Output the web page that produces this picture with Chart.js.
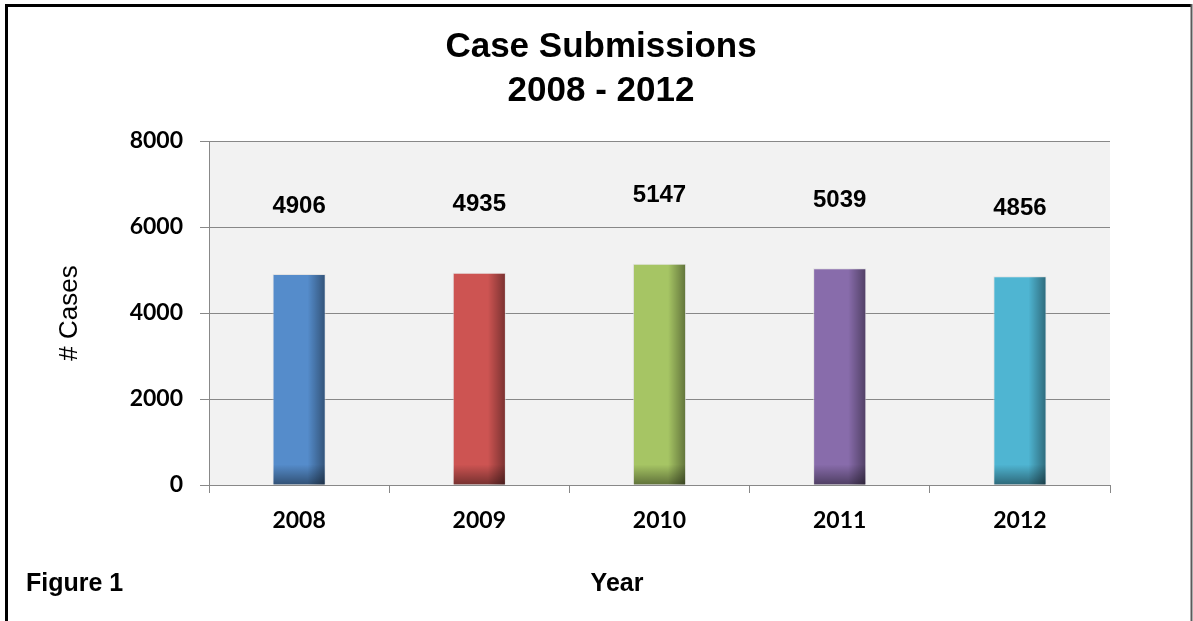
<!DOCTYPE html>
<html>
<head>
<meta charset="utf-8">
<script src="https://cdn.jsdelivr.net/npm/chart.js@4/dist/chart.umd.min.js"></script>
<style>
  html, body { margin: 0; padding: 0; background: #ffffff; }
  #wrap { position: relative; width: 1193px; height: 621px; }
</style>
</head>
<body>
<div id="wrap"><canvas id="c" width="1193" height="621"></canvas></div>
<script>
// Case submissions per year
const years = ['2008', '2009', '2010', '2011', '2012'];
const cases = [4906, 4935, 5147, 5039, 4856];
const barColors = ['#558ccb', '#cd5452', '#a6c564', '#886cab', '#4fb5d2'];
const yTicks = [0, 2000, 4000, 6000, 8000];
const titleLines = ['Case Submissions', '2008 - 2012'];

const AXIS_GRAY = '#888888';

// Light gray plot background behind the grid, plus the outer frame of the figure
const plotFrame = {
  id: 'plotFrame',
  beforeDraw(chart) {
    const { ctx, chartArea: a } = chart;
    ctx.save();
    ctx.fillStyle = '#ffffff';
    ctx.fillRect(0, 0, chart.width, chart.height);
    ctx.fillStyle = '#f2f2f2';
    ctx.fillRect(a.left, a.top, a.right - a.left, a.bottom - a.top);
    ctx.restore();
  },
  afterDraw(chart) {
    const { ctx } = chart;
    ctx.save();
    ctx.strokeStyle = '#000000';
    ctx.lineWidth = 3;
    ctx.beginPath();
    ctx.moveTo(6.5, chart.height);
    ctx.lineTo(6.5, 5.5);
    ctx.lineTo(chart.width - 2, 5.5);
    ctx.stroke();
    ctx.strokeStyle = '#5a5a5a';
    ctx.lineWidth = 2;
    ctx.beginPath();
    ctx.moveTo(chart.width - 1.5, 4);
    ctx.lineTo(chart.width - 1.5, chart.height);
    ctx.stroke();
    ctx.restore();
  }
};

// Darkened right edge and foot on each bar for a rounded look
const barShade = {
  id: 'barShade',
  afterDatasetsDraw(chart) {
    const { ctx } = chart;
    const meta = chart.getDatasetMeta(0);
    ctx.save();
    meta.data.forEach((bar) => {
      const left = bar.x - bar.width / 2;
      const right = bar.x + bar.width / 2;
      const top = bar.y;
      const bottom = bar.base;
      const sideStart = left + bar.width * 0.66;
      const g1 = ctx.createLinearGradient(sideStart, 0, right, 0);
      g1.addColorStop(0, 'rgba(0,0,0,0)');
      g1.addColorStop(1, 'rgba(0,0,0,0.42)');
      ctx.fillStyle = g1;
      ctx.fillRect(sideStart, top + 1, right - sideStart - 1, bottom - top - 1);
      const footTop = bottom - 20;
      const g2 = ctx.createLinearGradient(0, footTop, 0, bottom);
      g2.addColorStop(0, 'rgba(0,0,0,0)');
      g2.addColorStop(1, 'rgba(0,0,0,0.42)');
      ctx.fillStyle = g2;
      ctx.fillRect(left + 1, footTop, bar.width - 2, bottom - footTop);
    });
    ctx.restore();
  }
};

// Value labels floating above each bar
const valueLabels = {
  id: 'valueLabels',
  afterDatasetsDraw(chart) {
    const { ctx } = chart;
    const meta = chart.getDatasetMeta(0);
    const values = chart.data.datasets[0].data;
    ctx.save();
    ctx.font = 'bold 24px "Liberation Sans", Arial, sans-serif';
    ctx.fillStyle = '#000000';
    ctx.textAlign = 'center';
    ctx.textBaseline = 'middle';
    meta.data.forEach((bar, i) => {
      ctx.fillText(String(values[i]), bar.x, bar.y - 68);
    });
    ctx.restore();
  }
};

// Two-line heading, figure caption and x-axis caption
const captions = {
  id: 'captions',
  afterDraw(chart) {
    const { ctx } = chart;
    ctx.save();
    ctx.fillStyle = '#000000';
    ctx.textAlign = 'center';
    ctx.textBaseline = 'alphabetic';
    ctx.font = 'bold 35px "Liberation Sans", Arial, sans-serif';
    ctx.fillText(titleLines[0], 601, 57);
    ctx.fillText(titleLines[1], 601, 101);
    ctx.font = 'bold 25px "Liberation Sans", Arial, sans-serif';
    ctx.textAlign = 'left';
    ctx.fillText('Figure 1', 26, 591);
    ctx.textAlign = 'center';
    ctx.fillText('Year', 617, 591);
    ctx.restore();
  }
};

new Chart(document.getElementById('c'), {
  type: 'bar',
  data: {
    labels: years,
    datasets: [{
      data: cases,
      backgroundColor: barColors,
      borderColor: 'rgba(220,220,220,0.7)',
      borderWidth: 1,
      barPercentage: 0.295,
      categoryPercentage: 1.0
    }]
  },
  options: {
    responsive: false,
    animation: false,
    events: [],
    layout: { padding: { left: 0, right: 83, top: 141, bottom: 0 } },
    plugins: {
      legend: { display: false },
      tooltip: { enabled: false },
      title: { display: false }
    },
    scales: {
      x: {
        afterFit(scale) { scale.height = 136; },
        border: { display: true, color: AXIS_GRAY, width: 1 },
        grid: { display: true, drawOnChartArea: false, drawTicks: true, tickLength: 8, tickColor: AXIS_GRAY, offset: true },
        ticks: {
          color: '#000000',
          padding: 14,
          font: { family: 'Lato, "Open Sans", sans-serif', size: 23, weight: 'bold' }
        }
      },
      y: {
        min: 0,
        max: 8000,
        afterFit(scale) { scale.width = 209; },
        afterBuildTicks(scale) { scale.ticks = yTicks.map((v) => ({ value: v })); },
        border: { display: true, color: AXIS_GRAY, width: 1 },
        grid: { color: AXIS_GRAY, lineWidth: 1, tickLength: 9, tickColor: AXIS_GRAY },
        ticks: {
          color: '#000000',
          padding: 17,
          callback: (v) => String(v),
          font: { family: 'Lato, "Open Sans", sans-serif', size: 23, weight: 'bold' }
        },
        title: {
          display: true,
          text: '# Cases',
          color: '#000000',
          font: { family: '"Liberation Sans", Arial, sans-serif', size: 26, weight: 'normal', lineHeight: 1.2 },
          padding: { top: 54, bottom: 0 }
        }
      }
    }
  },
  plugins: [plotFrame, barShade, valueLabels, captions]
});
</script>
</body>
</html>
